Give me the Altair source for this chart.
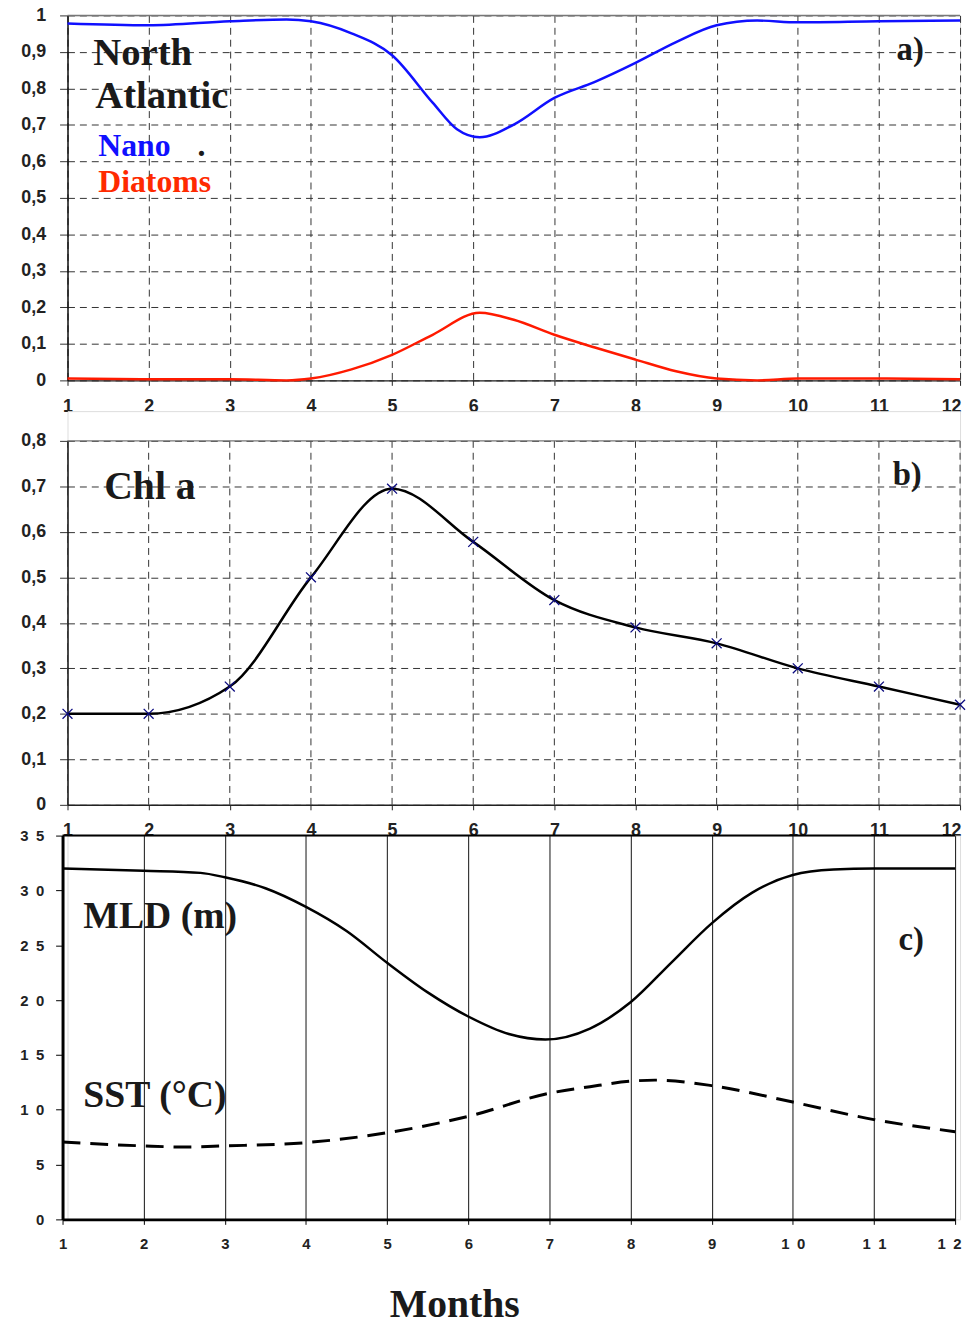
import altair as alt
import pandas as pd

SERIF = "Liberation Serif"
SANS = "Liberation Sans"

# ---------------- data ----------------
months = [1, 2, 3, 4, 5, 6, 7, 8, 9, 10, 11, 12]

# panel a : fraction of Nano / Diatoms
nano_m = [1, 2, 3, 3.7, 4, 4.5, 5, 5.5, 5.8, 6.08, 6.5, 7, 7.5, 8, 8.5, 9, 9.5, 10, 11, 12]
nano_v = [0.978, 0.973, 0.984, 0.989, 0.984, 0.951, 0.891, 0.761, 0.688, 0.666, 0.701,
          0.774, 0.818, 0.870, 0.927, 0.973, 0.986, 0.981, 0.984, 0.986]
diat_m = [1, 2, 3, 3.7, 4, 4.5, 5, 5.5, 6.08, 6.5, 7, 7.5, 8, 8.5, 9, 9.5, 10, 11, 12]
diat_v = [0.005, 0.003, 0.003, 0.0, 0.005, 0.03, 0.07, 0.125, 0.185, 0.166, 0.125,
          0.09, 0.057, 0.025, 0.005, 0.0, 0.005, 0.005, 0.003]

# panel b : Chl a
chl_v = [0.20, 0.20, 0.26, 0.50, 0.695, 0.578, 0.45, 0.39, 0.355, 0.30, 0.26, 0.22]

# panel c : MLD and SST
mld_m = [1, 2, 2.7, 3, 3.5, 4, 4.5, 5, 5.5, 6, 6.5, 6.95, 7.5, 8, 8.5, 9, 9.5, 10, 10.5, 11, 12]
mld_v = [32.0, 31.8, 31.6, 31.2, 30.2, 28.5, 26.3, 23.4, 20.7, 18.5, 16.9, 16.4, 17.4,
         19.8, 23.4, 27.0, 29.8, 31.4, 31.9, 32.0, 32.0]
sst_m = [1, 2, 2.5, 3, 4, 5, 6, 7, 7.5, 8, 8.3, 9, 10, 11, 12]
sst_v = [7.05, 6.7, 6.6, 6.7, 7.0, 7.9, 9.4, 11.5, 12.1, 12.6, 12.7, 12.2, 10.7, 9.1, 8.0]

ticks_a = [0, 0.1, 0.2, 0.3, 0.4, 0.5, 0.6, 0.7, 0.8, 0.9, 1.0]
ticks_b = [0, 0.1, 0.2, 0.3, 0.4, 0.5, 0.6, 0.7, 0.8]
ticks_c = [0, 5, 10, 15, 20, 25, 30, 35]

series_names = ["Nano", "Diatoms"]
series_colors = ["#1010ff", "#ff1a00"]

# ---------------- helpers ----------------
comma_expr = ("datum.value == 0 ? '0' : datum.value == 1 ? '1' : "
              "replace(format(datum.value, '.1f'), '.', ',')")
spaced_expr = "join(split(datum.label, ''), '\u2002')"
last_align = {"condition": {"test": "datum.value == 12", "value": "right"}, "value": "center"}


def last_offset(n):
    return {"condition": {"test": "datum.value == 12", "value": n}, "value": 0}


def x_dashed(grid=True):
    return alt.X("m:Q", scale=alt.Scale(domain=[1, 12], nice=False, zero=False),
                 axis=alt.Axis(values=months, grid=grid, gridDash=[7, 5], gridColor="#333",
                               gridWidth=1, domainColor="#222", domainWidth=1.5,
                               tickColor="#222", tickSize=5, labelFont=SANS,
                               labelFontWeight="bold", labelFontSize=18, labelColor="#222",
                               labelPadding=12, labelFlush=False, labelAlign=last_align,
                               labelOffset=last_offset(1), title=None))


def y_dashed(ticks, top, rng=None):
    sc = alt.Scale(domain=[0, top], nice=False, zero=True)
    if rng is not None:
        sc = alt.Scale(domain=[0, top], nice=False, zero=True, range=rng)
    return alt.Y("v:Q", scale=sc,
                 axis=alt.Axis(values=ticks, grid=True, gridDash=[7, 5], gridColor="#333",
                               gridWidth=1, domainColor="#111", domainWidth=1.5,
                               tickColor="#333", tickSize=8, labelFont=SANS,
                               labelFontWeight="bold", labelFontSize=18, labelColor="#222",
                               labelPadding=14, labelFlush=False, labelExpr=comma_expr,
                               title=None))


def label(text, x, y, size, color="#1a1a1a"):
    return alt.Chart(pd.DataFrame({"t": [text]})).mark_text(
        align="left", baseline="alphabetic", font=SERIF, fontWeight="bold",
        fontSize=size, color=color).encode(x=alt.value(x), y=alt.value(y), text="t:N")


# ---------------- panel a ----------------
df_a = pd.concat([
    pd.DataFrame({"m": nano_m, "v": nano_v, "s": "Nano"}),
    pd.DataFrame({"m": diat_m, "v": diat_v, "s": "Diatoms"}),
])
lines_a = alt.Chart(df_a).mark_line(strokeWidth=2.5, interpolate="monotone").encode(
    x=x_dashed(), y=y_dashed(ticks_a, 1),
    color=alt.Color("s:N", scale=alt.Scale(domain=series_names, range=series_colors), legend=None),
    detail="s:N")
top_a = alt.Chart(pd.DataFrame({"v": [1.0]})).mark_rule(color="#777", strokeWidth=1.5).encode(
    y=y_dashed(ticks_a, 1), x=alt.value(0), x2=alt.value(900))
panel_a = alt.layer(
    top_a, lines_a,
    label("North", 26, 50, 39), label("Atlantic", 28, 93, 39),
    label("Nano", 31, 142, 32, "#1010ff"), label(".", 131, 142, 32),
    label("Diatoms", 31, 178, 32, "#ff2a00"), label("a)", 836, 45, 33),
).properties(width=900, height=368)

# ---------------- panel b ----------------
# group is 30px taller than the plot so that the gap above it is larger
RB = [397, 30]
df_b = pd.DataFrame({"m": months, "v": chl_v})
df_bgrid = pd.DataFrame({"m": months, "v": [0.0] * 12, "v2": [0.8] * 12})
grid_b = alt.Chart(df_bgrid).mark_rule(color="#333", strokeWidth=1, strokeDash=[7, 5]).encode(
    x=x_dashed(False), y=y_dashed(ticks_b, 0.8, RB), y2="v2:Q")
line_b = alt.Chart(df_b).mark_line(strokeWidth=2.5, color="black", interpolate="monotone").encode(
    x=x_dashed(False), y=y_dashed(ticks_b, 0.8, RB))
pts_b = alt.Chart(df_b).mark_point(shape="M-1,-1L1,1M-1,1L1,-1", size=100, filled=False,
                                   color="#0a0a80", strokeWidth=1.3, opacity=1).encode(
    x=x_dashed(False), y=y_dashed(ticks_b, 0.8, RB))
top_b = alt.Chart(pd.DataFrame({"v": [0.8]})).mark_rule(color="#777", strokeWidth=1.5).encode(
    y=y_dashed(ticks_b, 0.8, RB), x=alt.value(0), x2=alt.value(900))
panel_b = alt.layer(
    grid_b, top_b, line_b, pts_b,
    label("Chl a", 37, 89, 40), label("b)", 832, 74, 33),
).properties(width=900, height=397)

# ---------------- panel c ----------------
xc = alt.X("m:Q", scale=alt.Scale(domain=[1, 12], nice=False, zero=False, range=[-5, 895]),
           axis=alt.Axis(values=months, grid=True, gridColor="#111", gridWidth=1,
                         domainColor="black", domainWidth=3, tickColor="black", tickSize=5,
                         labelFont=SANS, labelFontWeight="bold", labelFontSize=15,
                         labelColor="#222", labelPadding=12, labelFlush=False,
                         labelExpr=spaced_expr, labelAlign=last_align,
                         labelOffset=last_offset(6),
                         title="Months", titleFont=SERIF, titleFontSize=40,
                         titleFontWeight="bold", titleColor="#1a1a1a", titleX=390, titleY=98,
                         titleBaseline="alphabetic", titleAlign="center"))
yc = alt.Y("v:Q", scale=alt.Scale(domain=[0, 35], nice=False, zero=True),
           axis=alt.Axis(values=ticks_c, grid=False, domainColor="black", domainWidth=3,
                         tickColor="black", tickSize=7, offset=5, labelFont=SANS,
                         labelFontWeight="bold", labelFontSize=15, labelColor="#222",
                         labelPadding=12, labelFlush=False, labelExpr=spaced_expr, title=None))
df_mld = pd.DataFrame({"m": mld_m, "v": mld_v})
df_sst = pd.DataFrame({"m": sst_m, "v": sst_v})
line_mld = alt.Chart(df_mld).mark_line(strokeWidth=2.5, color="black", interpolate="monotone").encode(x=xc, y=yc)
line_sst = alt.Chart(df_sst).mark_line(strokeWidth=3, color="black", strokeDash=[18, 10],
                                       interpolate="monotone").encode(x=xc, y=yc)
top_c = alt.Chart(pd.DataFrame({"m": [1], "m2": [12], "v": [35]})).mark_rule(
    color="black", strokeWidth=2).encode(x=xc, x2="m2:Q", y=yc)
panel_c = alt.layer(
    top_c, line_mld, line_sst,
    label("MLD (m)", 16, 93, 38), label("SST (°C)", 16, 274, 38), label("c)", 838, 115, 33),
).properties(width=900, height=387)

chart = alt.vconcat(panel_a, panel_b, panel_c, spacing=31, bounds="flush").properties(
    padding={"left": 11, "top": -8, "right": -1, "bottom": -7}
).configure_view(stroke=None).configure(background="white")

chart.save("out.html", embed_options={"renderer": "svg", "actions": False})
